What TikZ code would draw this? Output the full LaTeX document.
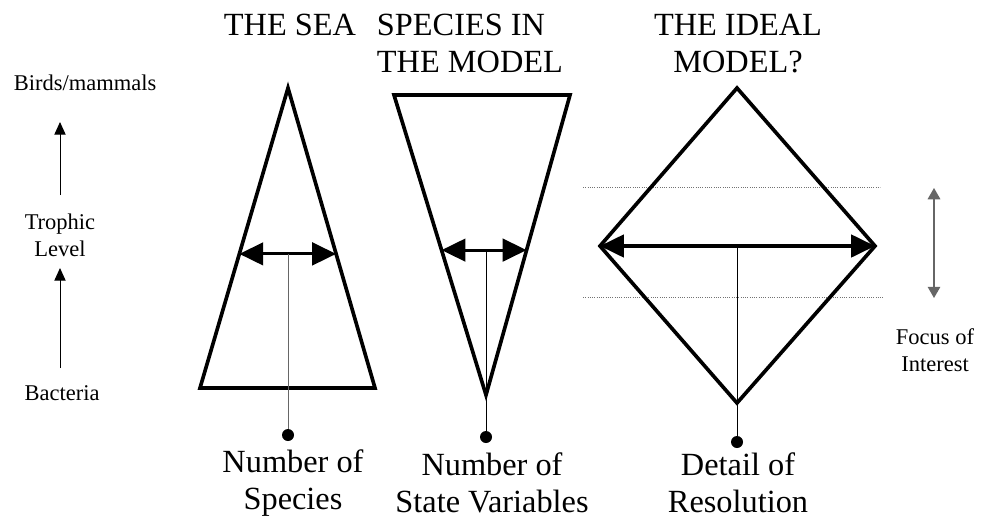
\documentclass[tikz,border=0pt]{standalone}
\usepackage{fontspec}
\setmainfont{Liberation Serif}
\usetikzlibrary{arrows.meta,positioning,calc}

\begin{document}
\begin{tikzpicture}[
        x=0.025cm, y=-0.025cm,
        outline/.style={line width=2.6pt, line join=miter},
        span/.style={{Triangle[length=17pt,width=16pt]}-{Triangle[length=17pt,width=16pt]}, line width=2.2pt},
        climb/.style={-{Triangle[length=9pt,width=8pt]}, line width=0.7pt},
        focus/.style={{Triangle[length=8pt,width=9pt]}-{Triangle[length=8pt,width=9pt]}, line width=0.8pt, black!60},
        drop/.style={line width=0.7pt},
        guide/.style={densely dotted, line width=0.6pt, black!55},
        dot/.style={circle, fill, inner sep=0pt, minimum size=0.3cm},
        title/.style={font=\fontsize{23}{26.5}\selectfont, align=center},
        side/.style={font=\fontsize{16}{19}\selectfont, align=center}
    ]
        \useasboundingbox (0,0) rectangle (990,520);

        % titles
        \node[title] (sea title) at (290,25) {THE SEA};
        \node[title, align=left, anchor=west] (model title) at (372,43.5) {SPECIES IN\\THE MODEL};
        \node[title] (ideal title) at (738,43.5) {THE IDEAL\\MODEL?};

        % trophic level axis
        \node[side] (birds) at (85,83) {Birds/mammals};
        \node[side] (trophic) at (60,235) {Trophic\\Level};
        \node[side] (bacteria) at (62,393) {Bacteria};
        \coordinate (up1 foot) at (60,195);
        \coordinate (up1 tip) at (60,122);
        \coordinate (up2 foot) at (60,368);
        \coordinate (up2 tip) at (60,268);
        \draw[climb] (up1 foot) -- (up1 tip);
        \draw[climb] (up2 foot) -- (up2 tip);

        % the sea
        \coordinate (sea top) at (288,88);
        \coordinate (sea bl) at (200,388);
        \coordinate (sea br) at (375,388);
        \draw[outline] (sea top) -- (sea br) -- (sea bl) -- cycle;
        \coordinate (sea l) at ($(sea top)!0.553!(sea bl)$);
        \coordinate (sea r) at ($(sea top)!0.553!(sea br)$);
        \draw[span] (sea l) -- (sea r);
        \node[dot] (sea dot) at (288,435) {};
        \draw[drop, black!60] (sea top |- sea l) -- (sea dot);
        \node[title] (sea label) at (293,483) {Number of\\Species};

        % species in the model
        \coordinate (model tl) at (394,95);
        \coordinate (model tr) at (570,95);
        \coordinate (model tip) at (486,395);
        \draw[outline] (model tl) -- (model tr) -- (model tip) -- cycle;
        \coordinate (model l) at ($(model tip)!0.483!(model tl)$);
        \coordinate (model r) at ($(model tip)!0.483!(model tr)$);
        \draw[span] (model l) -- (model r);
        \node[dot] (model dot) at (486,437) {};
        \draw[drop] (model tip |- model l) -- (model dot);
        \node[title] (model label) at (492,483) {Number of\\State Variables};

        % the ideal model
        \coordinate (ideal top) at (737,88);
        \coordinate (ideal right) at (875,246);
        \coordinate (ideal bottom) at (737,403);
        \coordinate (ideal left) at (600,246);
        \draw[guide] (583,187) -- (880,187);
        \draw[guide] (583,297) -- (883,297);
        \draw[outline] (ideal top) -- (ideal right) -- (ideal bottom) -- (ideal left) -- cycle;
        \draw[span] (ideal left) -- (ideal right);
        \node[dot] (ideal dot) at (737,442) {};
        \draw[drop] (ideal top |- ideal left) -- (ideal dot);
        \node[title] (ideal label) at (738,483) {Detail of\\Resolution};

        % focus of interest
        \coordinate (focus hi) at (934,188);
        \coordinate (focus lo) at (934,298);
        \draw[focus] (focus hi) -- (focus lo);
        \node[side] (focus) at (935,350) {Focus of\\Interest};
    \end{tikzpicture}
\end{document}
